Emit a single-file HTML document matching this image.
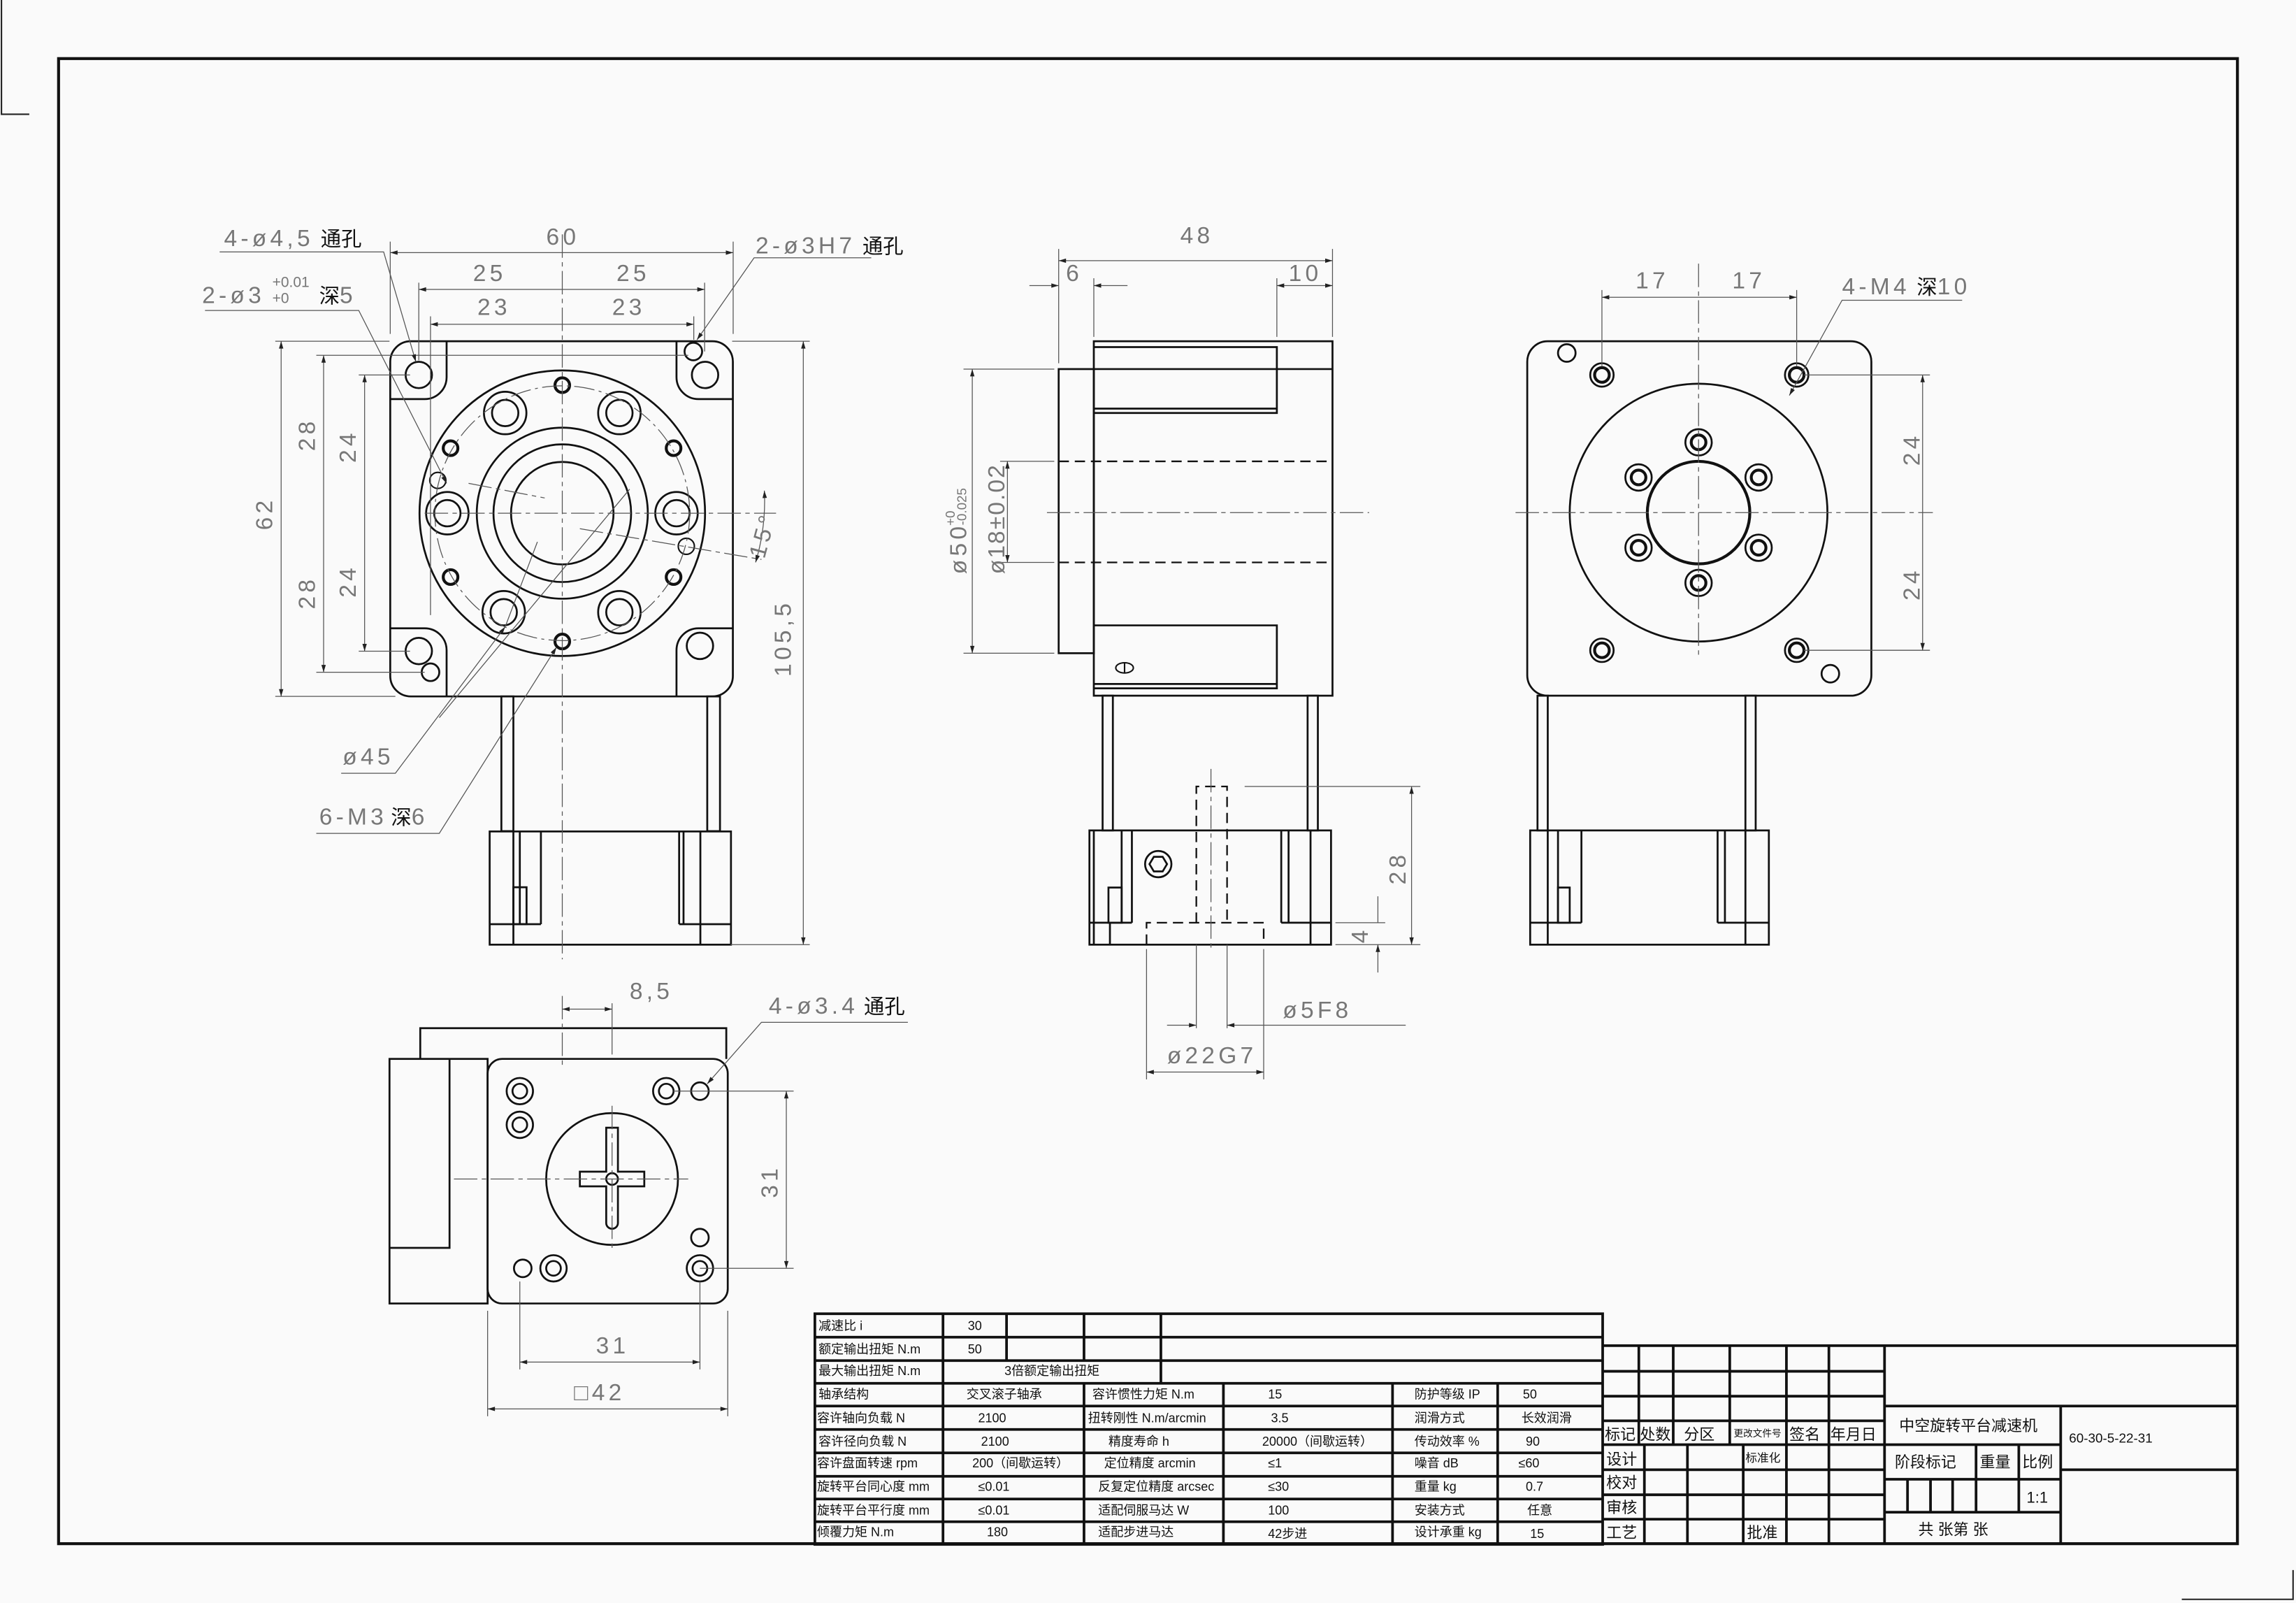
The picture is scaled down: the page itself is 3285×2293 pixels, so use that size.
<!DOCTYPE html>
<html><head><meta charset="utf-8"><style>
html,body{margin:0;padding:0;background:#fafafa;}
svg{display:block;}
text{font-family:"Liberation Sans","Noto Sans CJK SC",sans-serif;}
.d{fill:#777;font-size:16px;letter-spacing:2.5px;font-family:"DejaVu Sans Mono","Liberation Mono",monospace;}
.k{fill:#111;font-size:14px;letter-spacing:0;}
.t{fill:#111;font-size:8.6px;}
.t2{fill:#111;font-size:10.5px;}
</style></head><body>
<svg width="3285" height="2293" viewBox="0 0 1568 1094.5" xmlns="http://www.w3.org/2000/svg">
<defs>
<marker id="a" viewBox="0 0 10 10" refX="10" refY="5" markerWidth="7" markerHeight="5" orient="auto-start-reverse" markerUnits="userSpaceOnUse"><path d="M0,2 L10,5 L0,8z" fill="#222"/></marker>
</defs>
<rect width="1568" height="1094.5" fill="#fafafa"/>
<path d="M1,0 V78 H20" fill="none" stroke="#222" stroke-width="1"/>
<path d="M1490,1092 H1566 V1072" fill="none" stroke="#222" stroke-width="1"/>
<rect x="40" y="40" width="1488" height="1014" fill="none" stroke="#111" stroke-width="2"/>

<!-- ================= FRONT VIEW ================= -->
<g fill="none" stroke="#111" stroke-width="1.3">
<rect x="266.5" y="233" width="234" height="242.5" rx="14"/>
<path d="M266.5,272.5 H290 A15,15 0 0 0 305,257.5 V233"/>
<path d="M500.5,272.5 H477 A15,15 0 0 1 462,257.5 V233"/>
<path d="M266.5,429 H290 A15,15 0 0 1 305,444 V475.5"/>
<path d="M500.5,429 H477 A15,15 0 0 0 462,444 V475.5"/>
<circle cx="286" cy="256" r="9"/><circle cx="481.5" cy="256" r="9"/>
<circle cx="286" cy="444.5" r="9"/><circle cx="478" cy="441" r="9"/>
<circle cx="473.5" cy="240" r="6"/><circle cx="294" cy="459" r="6"/>
<circle cx="384" cy="350.4" r="97.5"/>
<circle cx="384" cy="350.4" r="58.4"/><circle cx="384" cy="350.4" r="47"/><circle cx="384" cy="350.4" r="35"/>
<circle cx="345" cy="282" r="14.5"/><circle cx="345" cy="282" r="9"/>
<circle cx="423" cy="282" r="14.5"/><circle cx="423" cy="282" r="9"/>
<circle cx="305.5" cy="350.4" r="14.5"/><circle cx="305.5" cy="350.4" r="9"/>
<circle cx="462" cy="350.4" r="14.5"/><circle cx="462" cy="350.4" r="9"/>
<circle cx="344" cy="418" r="14.5"/><circle cx="344" cy="418" r="9"/>
<circle cx="423" cy="418" r="14.5"/><circle cx="423" cy="418" r="9"/>
<g stroke-width="2"><circle cx="384" cy="263" r="5"/><circle cx="307.7" cy="306" r="5"/><circle cx="460" cy="306" r="5"/><circle cx="307.7" cy="394" r="5"/><circle cx="460" cy="394" r="5"/><circle cx="384" cy="438" r="5"/></g>
<circle cx="299" cy="328" r="5.5" stroke-width="1"/><circle cx="468.7" cy="373" r="5.5" stroke-width="1"/>
<rect x="342.4" y="475.5" width="8.2" height="92"/><rect x="483" y="475.5" width="8.7" height="92"/>
<rect x="334.4" y="567.7" width="164.8" height="77.3"/>
<path d="M350.6,567.7 V645 M355,567.7 V631 M369.4,567.7 V631 M334.4,631 H369.4 M463.8,567.7 V631 M466.8,567.7 V631 M478.3,567.7 V645 M463.8,631 H499.2"/>
<rect x="350.6" y="605.8" width="9" height="25.2"/>
</g>
<g fill="none" stroke="#555" stroke-width="0.6">
<circle cx="384" cy="350.4" r="87" stroke-dasharray="14 3 2 3"/>
<path d="M384,160 V655 M290,350.4 H530" stroke-dasharray="16 3 3 3"/>
<path d="M320,330 L372,340 M396,361 L520,382" stroke-dasharray="16 3 3 3"/>
<path d="M266.5,228 V165 M500.7,228 V165 M286,246 V193 M481.2,240 V193 M294,420 V216 M473.8,232 V216"/>
<path d="M266.5,172.5 H500.7" marker-start="url(#a)" marker-end="url(#a)"/>
<path d="M286,197.6 H384 M384,197.6 H481.2" marker-start="url(#a)" marker-end="url(#a)"/>
<path d="M294,221.4 H384 M384,221.4 H473.8" marker-start="url(#a)" marker-end="url(#a)"/>
<path d="M188,233 H266 M216,242.6 H470 M245,256 H280 M216,459 H290 M245,444.6 H280 M188,475.5 H270"/>
<path d="M192,233 V475.5" marker-start="url(#a)" marker-end="url(#a)"/>
<path d="M221,242.6 V350.4 M221,350.4 V459" marker-start="url(#a)" marker-end="url(#a)"/>
<path d="M249,256 V350.4 M249,350.4 V444.6" marker-start="url(#a)" marker-end="url(#a)"/>
<path d="M500,233 H553 M499,645 H553"/>
<path d="M548.6,233 V645" marker-start="url(#a)" marker-end="url(#a)"/>
<path d="M522,335 A145,145 0 0 1 516,384" marker-start="url(#a)" marker-end="url(#a)"/>
<path d="M150,172 H262 L284,247" marker-end="url(#a)"/>
<path d="M140,212 H245 L305,330" marker-end="url(#a)"/>
<path d="M595,176 H515 L476,232" marker-end="url(#a)"/>
<path d="M233,528 H270 L345,428" marker-end="url(#a)"/>
<path d="M216,569 H300 L380,442" marker-end="url(#a)"/>
<path d="M430,334 L300,490 M367,370 L345,428"/>
</g>
<g class="d">
<text x="373" y="167">60</text>
<text x="323" y="192">25</text><text x="421" y="192">25</text>
<text x="326" y="215">23</text><text x="418" y="215">23</text>
<text transform="translate(186,362) rotate(-90)">62</text>
<text transform="translate(215,308) rotate(-90)">28</text><text transform="translate(215,416) rotate(-90)">28</text>
<text transform="translate(243,316) rotate(-90)">24</text><text transform="translate(243,408) rotate(-90)">24</text>
<text transform="translate(540,462) rotate(-90)">105,5</text>
<text transform="translate(522,382) rotate(-75)">15°</text>
<text x="153" y="168">4-ø4,5</text><text x="219" y="168" class="k">通孔</text>
<text x="138" y="207">2-ø3</text><text x="186" y="196" style="font-size:10px;letter-spacing:0">+0.01</text><text x="186" y="207" style="font-size:10px;letter-spacing:0">+0</text>
<text x="218" y="207" class="k">深</text><text x="232" y="207">5</text>
<text x="516" y="173">2-ø3H7</text><text x="589" y="173" class="k">通孔</text>
<text x="234" y="522">ø45</text>
<text x="218" y="563">6-M3</text><text x="267" y="563" class="k">深</text><text x="281" y="563">6</text>
</g>

<!-- ================= SIDE VIEW ================= -->
<g fill="none" stroke="#111" stroke-width="1.3">
<rect x="747" y="233" width="163" height="242"/>
<rect x="723" y="252" width="24" height="194"/>
<path d="M747,237 H872 V282 H747 M747,252 H910 M747,279 H872"/>
<path d="M747,427 H872 V470 H747 M747,467 H872"/>
<path d="M762,456 a6,3.5 0 1 1 12,0 a6,3.5 0 1 1 -12,0 M768,452.5 V459.5" stroke-width="1"/>
<rect x="753" y="475" width="7" height="92"/><rect x="893" y="475" width="7" height="92"/>
<rect x="744" y="567" width="165" height="78"/>
<path d="M747,567 V645 M766,567 V630 M773,567 V630 M744,630 H773 M758,630 V645 M875,567 V630 M880,567 V630 M895,567 V645 M875,630 H909"/>
<rect x="757" y="606" width="9" height="24"/>
<circle cx="791" cy="590" r="9"/><path d="M785,590 L788,585 H794 L797,590 L794,595 H788z"/>
</g>
<g fill="none" stroke="#111" stroke-width="1.1" stroke-dasharray="7 4">
<path d="M723,315 H910 M723,384 H910"/>
<path d="M817,630 V537 H838 V630"/>
<path d="M783,645 V630 H863 V645"/>
</g>
<g fill="none" stroke="#555" stroke-width="0.6">
<path d="M715,350 H935 M827,525 V650" stroke-dasharray="16 3 3 3"/>
<path d="M723,248 V170 M910,230 V170 M747,230 V190 M872,230 V190"/>
<path d="M723,178 H910" marker-start="url(#a)" marker-end="url(#a)"/>
<path d="M703,195 H723" marker-end="url(#a)"/><path d="M770,195 H747" marker-end="url(#a)"/>
<path d="M872,195 H910" marker-start="url(#a)" marker-end="url(#a)"/>
<path d="M658,252 H720 M658,446 H720 M683,315 H720 M683,384 H720"/>
<path d="M664,252 V446" marker-start="url(#a)" marker-end="url(#a)"/>
<path d="M688,315 V384" marker-start="url(#a)" marker-end="url(#a)"/>
<path d="M850,537 H970 M912,645 H970 M912,630 H946"/>
<path d="M964,537 V645" marker-start="url(#a)" marker-end="url(#a)"/>
<path d="M941,612 V630 M941,664 V645" marker-end="url(#a)"/>
<path d="M817,645 V702 M838,645 V702 M783,648 V737 M863,648 V737"/>
<path d="M797,700 H817" marker-end="url(#a)"/><path d="M960,700 H838" marker-end="url(#a)"/>
<path d="M783,732 H863" marker-start="url(#a)" marker-end="url(#a)"/>
</g>
<g class="d">
<text x="806" y="166">48</text>
<text x="728" y="192">6</text>
<text x="880" y="192">10</text>
<text transform="translate(660,392) rotate(-90)">ø50<tspan style="font-size:9px;letter-spacing:0" dy="-8" dx="-2">+0</tspan><tspan style="font-size:9px;letter-spacing:0" dy="8" dx="-10">-0.025</tspan></text>
<text transform="translate(686,392) rotate(-90)" style="letter-spacing:1px">ø18±0.02</text>
<text transform="translate(960,604) rotate(-90)">28</text>
<text transform="translate(934,644) rotate(-90)">4</text>
<text x="876" y="695">ø5F8</text>
<text x="797" y="726">ø22G7</text>
</g>

<!-- ================= RIGHT VIEW ================= -->
<g fill="none" stroke="#111" stroke-width="1.3">
<rect x="1043" y="233" width="235" height="242" rx="14"/>
<circle cx="1160" cy="350" r="88"/>
<circle cx="1160" cy="350" r="35" stroke-width="2"/>
<g><circle cx="1160" cy="302" r="9"/><circle cx="1160" cy="302" r="5" stroke-width="2"/>
<circle cx="1160" cy="398" r="9"/><circle cx="1160" cy="398" r="5" stroke-width="2"/>
<circle cx="1119" cy="326" r="9"/><circle cx="1119" cy="326" r="5" stroke-width="2"/>
<circle cx="1201" cy="326" r="9"/><circle cx="1201" cy="326" r="5" stroke-width="2"/>
<circle cx="1119" cy="374" r="9"/><circle cx="1119" cy="374" r="5" stroke-width="2"/>
<circle cx="1201" cy="374" r="9"/><circle cx="1201" cy="374" r="5" stroke-width="2"/>
<circle cx="1094" cy="256" r="8"/><circle cx="1094" cy="256" r="5" stroke-width="2"/>
<circle cx="1227" cy="256" r="8"/><circle cx="1227" cy="256" r="5" stroke-width="2"/>
<circle cx="1094" cy="444" r="8"/><circle cx="1094" cy="444" r="5" stroke-width="2"/>
<circle cx="1227" cy="444" r="8"/><circle cx="1227" cy="444" r="5" stroke-width="2"/></g>
<circle cx="1070" cy="241" r="6"/><circle cx="1250" cy="460" r="6"/>
<rect x="1050" y="475" width="7" height="92"/><rect x="1192" y="475" width="7" height="92"/>
<rect x="1045" y="567" width="163" height="78"/>
<path d="M1057,567 V645 M1064,567 V630 M1080,567 V630 M1045,630 H1080 M1173,567 V630 M1178,567 V630 M1192,567 V645 M1173,630 H1208"/>
<rect x="1064" y="606" width="8" height="24"/>
</g>
<g fill="none" stroke="#555" stroke-width="0.6">
<path d="M1035,350 H1320 M1160,250 V450 M1160,180 V250" stroke-dasharray="16 3 3 3"/>
<path d="M1094,198 V250 M1227,198 V250"/>
<path d="M1094,203 H1160 M1160,203 H1227" marker-start="url(#a)" marker-end="url(#a)"/>
<path d="M1232,256 H1318 M1232,444 H1318"/>
<path d="M1313,256 V350 M1313,350 V444" marker-start="url(#a)" marker-end="url(#a)"/>
<path d="M1340,205 H1258 L1222,270" marker-end="url(#a)"/>
</g>
<g class="d">
<text x="1117" y="197">17</text><text x="1183" y="197">17</text>
<text transform="translate(1311,318) rotate(-90)">24</text><text transform="translate(1311,410) rotate(-90)">24</text>
<text x="1258" y="201">4-M4</text><text x="1309" y="201" class="k">深</text><text x="1323" y="201">10</text>
</g>

<!-- ================= BOTTOM VIEW ================= -->
<g fill="none" stroke="#111" stroke-width="1.3">
<rect x="333" y="723" width="164" height="167" rx="10"/>
<path d="M287,723 V702 H496 V723"/>
<rect x="266" y="723" width="67" height="167"/>
<path d="M266,852 H307 V723"/>
<circle cx="418" cy="805" r="45"/>
<path d="M414,770 H422 V800 H440 V810 H422 V835 A4,4 0 1 1 414,835 V810 H396 V800 H414z"/>
<circle cx="418" cy="805" r="4"/>
<circle cx="355" cy="745" r="9"/><circle cx="355" cy="745" r="5"/>
<circle cx="355" cy="768" r="9"/><circle cx="355" cy="768" r="5"/>
<circle cx="455" cy="745" r="9"/><circle cx="455" cy="745" r="5"/>
<circle cx="478" cy="745" r="6"/>
<circle cx="357" cy="866" r="6"/>
<circle cx="378" cy="866" r="9"/><circle cx="378" cy="866" r="5"/>
<circle cx="478" cy="845" r="6"/>
<circle cx="478" cy="866" r="9"/><circle cx="478" cy="866" r="5"/>
</g>
<g fill="none" stroke="#555" stroke-width="0.6">
<path d="M310,805 H470 M418,755 V855 M384,680 V730" stroke-dasharray="16 3 3 3"/>
<path d="M384,689 H418" marker-start="url(#a)" marker-end="url(#a)"/>
<path d="M418,685 V720"/>
<path d="M460,745 H542 M478,866 H542"/>
<path d="M537,745 V866" marker-start="url(#a)" marker-end="url(#a)"/>
<path d="M355,875 V935 M478,875 V935 M333,895 V967 M497,895 V967"/>
<path d="M355,930 H478" marker-start="url(#a)" marker-end="url(#a)"/>
<path d="M333,962 H497" marker-start="url(#a)" marker-end="url(#a)"/>
<path d="M620,698 H520 L483,740" marker-end="url(#a)"/>
</g>
<g class="d">
<text x="430" y="682">8,5</text>
<text x="525" y="692">4-ø3.4</text><text x="590" y="692" class="k">通孔</text>
<text transform="translate(531,818) rotate(-90)">31</text>
<text x="407" y="924">31</text>
<text x="392" y="956">□42</text>
</g>

<!-- ================= SPEC TABLE ================= -->
<g fill="none" stroke="#111" stroke-width="1.8">
<rect x="556.5" y="897" width="538" height="157.5"/>
<path d="M556.5,913 H1094.5 M556.5,929 H1094.5 M556.5,944.5 H1094.5 M556.5,960 H1094.5 M556.5,976 H1094.5 M556.5,992 H1094.5 M556.5,1008 H1094.5 M556.5,1023.5 H1094.5 M556.5,1039 H1094.5"/>
<path d="M644,897 V1054.5 M687.4,897 V929 M740.3,897 V929 M740.3,944.5 V1054.5 M792.8,897 V944.5 M835.5,944.5 V1054.5 M951,944.5 V1054.5 M1022.8,944.5 V1054.5"/>
</g>
<g class="t">
<text x="559" y="908">减速比 i</text><text x="661" y="908">30</text>
<text x="559" y="924">额定输出扭矩 N.m</text><text x="661" y="924">50</text>
<text x="559" y="939">最大输出扭矩 N.m</text><text x="686" y="939">3倍额定输出扭矩</text>
<text x="559" y="955">轴承结构</text><text x="660" y="955">交叉滚子轴承</text><text x="746" y="955">容许惯性力矩 N.m</text><text x="866" y="955">15</text><text x="966" y="955">防护等级 IP</text><text x="1040" y="955">50</text>
<text x="558" y="971">容许轴向负载 N</text><text x="668" y="971">2100</text><text x="743" y="971">扭转刚性 N.m/arcmin</text><text x="868" y="971">3.5</text><text x="966" y="971">润滑方式</text><text x="1039" y="971">长效润滑</text>
<text x="559" y="987">容许径向负载 N</text><text x="670" y="987">2100</text><text x="757" y="987">精度寿命 h</text><text x="862" y="987">20000（间歇运转）</text><text x="966" y="987">传动效率 %</text><text x="1042" y="987">90</text>
<text x="558" y="1002">容许盘面转速 rpm</text><text x="664" y="1002">200（间歇运转）</text><text x="754" y="1002">定位精度 arcmin</text><text x="866" y="1002">≤1</text><text x="966" y="1002">噪音 dB</text><text x="1037" y="1002">≤60</text>
<text x="558" y="1018">旋转平台同心度 mm</text><text x="668" y="1018">≤0.01</text><text x="750" y="1018">反复定位精度 arcsec</text><text x="866" y="1018">≤30</text><text x="966" y="1018">重量 kg</text><text x="1042" y="1018">0.7</text>
<text x="558" y="1034">旋转平台平行度 mm</text><text x="668" y="1034">≤0.01</text><text x="750" y="1034">适配伺服马达 W</text><text x="866" y="1034">100</text><text x="966" y="1034">安装方式</text><text x="1043" y="1034">任意</text>
<text x="558" y="1049">倾覆力矩 N.m</text><text x="674" y="1049">180</text><text x="750" y="1049">适配步进马达</text><text x="866" y="1050">42步进</text><text x="966" y="1049">设计承重 kg</text><text x="1045" y="1050">15</text>
</g>

<!-- ================= TITLE BLOCK ================= -->
<g fill="none" stroke="#111" stroke-width="1.8">
<path d="M1094.5,918.8 H1527.5"/>
<path d="M1094.5,936.3 H1287 M1094.5,953.3 H1287 M1094.5,970.1 H1287 M1094.5,986.4 H1287 M1094.5,1003.5 H1287 M1094.5,1020.6 H1287 M1094.5,1037.3 H1287"/>
<path d="M1119.2,918.8 V986.4 M1142.7,918.8 V986.4 M1181.3,918.8 V986.4 M1123,986.4 V1054.5 M1152.4,986.4 V1054.5 M1190.5,986.4 V1054.5 M1220,918.8 V1054.5 M1249,918.8 V1054.5 M1287,918.8 V1054.5"/>
<path d="M1287,960 H1527.5 M1287,986.4 H1407.3 M1407.3,960 V1054.5 M1407.3,1003.5 H1527.5 M1287,1010 H1407.3 M1287,1032.5 H1407.3 M1349.5,986.4 V1032.5 M1378.7,986.4 V1032.5 M1302.7,1010 V1032.5 M1318.4,1010 V1032.5 M1333.5,1010 V1032.5"/>
</g>
<g class="t2">
<text x="1096" y="983">标记</text><text x="1120" y="983">处数</text><text x="1150" y="983">分区</text><text x="1184" y="981" style="font-size:6.5px">更改文件号</text><text x="1222" y="983">签名</text><text x="1250" y="983">年月日</text>
<text x="1097" y="1000">设计</text><text x="1192" y="998" style="font-size:8px">标准化</text>
<text x="1097" y="1016">校对</text><text x="1097" y="1033">审核</text><text x="1097" y="1050">工艺</text><text x="1193" y="1050">批准</text>
<text x="1297" y="977">中空旋转平台减速机</text>
<text x="1413" y="985" style="font-size:9px">60-30-5-22-31</text>
<text x="1294" y="1002">阶段标记</text><text x="1352" y="1002">重量</text><text x="1381" y="1002">比例</text>
<text x="1384" y="1026">1:1</text>
<text x="1310" y="1048">共  张第  张</text>
</g>
</svg>
</body></html>
